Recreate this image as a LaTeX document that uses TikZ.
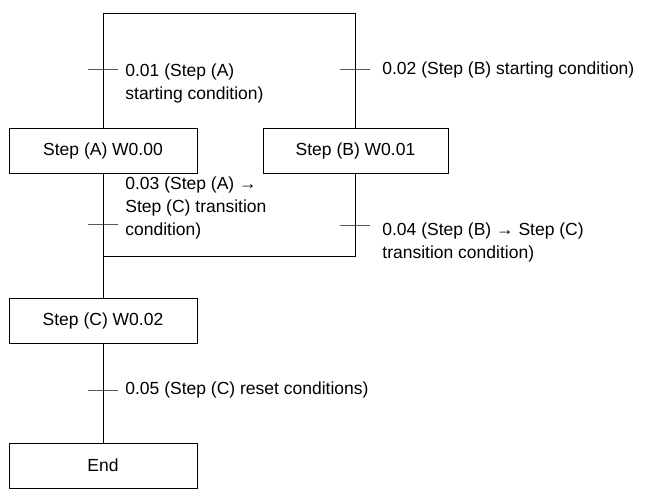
\documentclass[tikz,border=0pt]{standalone}
\usepackage{fontspec}
\setmainfont{Liberation Sans}
\usetikzlibrary{positioning}
\begin{document}
\begin{tikzpicture}[x=1pt,y=-1pt,line width=0.8pt]
  \tikzstyle{stepbox} = [rectangle, draw, minimum width=188pt, minimum height=45pt,
                      font=\fontsize{17.5}{21}\selectfont, inner sep=0pt]
  \tikzstyle{cond} = [anchor=west, align=left, font=\fontsize{17.5}{23}\selectfont, inner sep=0pt]
  \tikzstyle{tick} = [draw, minimum width=30pt, minimum height=0pt, inner sep=0pt]
\useasboundingbox (0,0) rectangle (665,493);

\node[stepbox] (A) at (103,150.5) {Step (A) W0.00};
\node[stepbox, minimum width=185pt] (B) at (355.5,150.5) {Step (B) W0.01};
\node[stepbox] (C) at (103,320.5) {Step (C) W0.02};
\node[stepbox] (E) at (103,465.5) {End};
\coordinate (top) at (103,13);
\coordinate (join) at (103,256);
\node[tick] (tA) at (103,69) {};
\node[tick] (tB) at (355,69) {};
\node[tick] (tAC) at (103,224) {};
\node[tick] (tBC) at (355,225) {};
\node[tick] (tCE) at (103,390) {};
\node[cond, anchor=north west] (cA) at (125,63.3) {0.01 (Step (A)\\starting condition)};
\node[cond] (cB) at (382,70) {0.02 (Step (B) starting condition)};
\node[cond, anchor=north west] (cAC) at (125,176.3) {0.03 (Step (A) →\\Step (C) transition\\condition)};
\node[cond, anchor=north west] (cBC) at (382,222.3) {0.04 (Step (B) → Step (C)\\transition condition)};
\node[cond] (cCE) at (125,390) {0.05 (Step (C) reset conditions)};
\draw (A.north) -- (top) -| (B.north);
\draw (A.south) -- (C.north);
\draw (B.south) |- (join);
\draw (C.south) -- (E.north);
\end{tikzpicture}
\end{document}
